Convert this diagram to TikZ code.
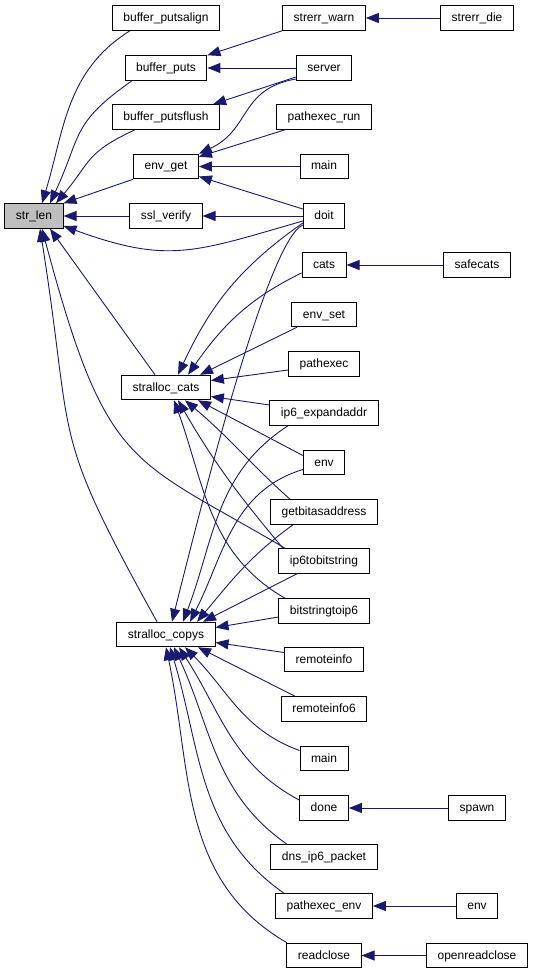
\documentclass[tikz,border=0pt]{standalone}
\usepackage{fontspec}
\setmainfont{Liberation Sans}
\usetikzlibrary{arrows.meta}
\definecolor{edgeblue}{RGB}{25,25,112}
\tikzset{
	fn/.style={draw=black,line width=1pt,fill=white,
		font=\fontsize{12}{14}\selectfont,
		inner xsep=11pt,inner ysep=0pt,minimum height=24.5pt,
		text height=8.6pt,text depth=1.6pt},
	root/.style={fn,fill=black!25},
	call/.style={draw=edgeblue,line width=0.9pt,
		-{Triangle[length=13pt,width=10pt]}}
}

\begin{document}
\begin{tikzpicture}[x=1pt,y=1pt]
		\useasboundingbox (0,0) rectangle (533,-973);
		
		% we place the function that is called
		\node[root] (strlen) at (34,-216) {str\_len};
		% we place its direct callers
		\node[fn] (putsalign) at (166,-18) {buffer\_putsalign};
		\node[fn] (puts) at (166,-68) {buffer\_puts};
		\node[fn] (putsflush) at (166,-117) {buffer\_putsflush};
		\node[fn] (envget) at (166,-166.5) {env\_get};
		\node[fn] (sslverify) at (166,-216) {ssl\_verify};
		\node[fn] (scats) at (166,-387.5) {stralloc\_cats};
		\node[fn] (scopys) at (166,-634.5) {stralloc\_copys};
		% we place the third column
		\node[fn] (warn) at (324,-18) {strerr\_warn};
		\node[fn] (server) at (324,-68) {server};
		\node[fn] (pathexecrun) at (324,-117) {pathexec\_run};
		\node[fn] (mainA) at (324,-166.5) {main};
		\node[fn] (doit) at (324,-216) {doit};
		\node[fn] (cats) at (324,-265) {cats};
		\node[fn] (envset) at (324,-314.5) {env\_set};
		\node[fn] (pathexec) at (324,-364) {pathexec};
		\node[fn] (expand) at (324,-413) {ip6\_expandaddr};
		\node[fn] (envA) at (324,-462.5) {env};
		\node[fn] (getbits) at (324,-512) {getbitasaddress};
		\node[fn] (ip6tobits) at (324,-561) {ip6tobitstring};
		\node[fn] (bitstoip6) at (324,-611) {bitstringtoip6};
		\node[fn] (remoteinfo) at (324,-659.5) {remoteinfo};
		\node[fn] (remoteinfosix) at (324,-709) {remoteinfo6};
		\node[fn] (mainB) at (324,-758.5) {main};
		\node[fn] (done) at (324,-808) {done};
		\node[fn] (dnspacket) at (324,-857) {dns\_ip6\_packet};
		\node[fn] (pathexecenv) at (324,-906) {pathexec\_env};
		\node[fn] (readclose) at (324,-955.5) {readclose};
		% we place the last column
		\node[fn] (die) at (477,-18) {strerr\_die};
		\node[fn] (safecats) at (477,-265) {safecats};
		\node[fn] (spawn) at (477,-808) {spawn};
		\node[fn] (envB) at (477,-906) {env};
		\node[fn] (openreadclose) at (477,-955.5) {openreadclose};
		
		% we draw the calls of str_len
		\draw[call] ([xshift=-36pt]putsalign.south) to[out=212,in=73] ([xshift=8pt]strlen.north);
		\draw[call] ([xshift=-34pt]puts.south) to[out=215,in=65,looseness=1.3] ([xshift=16pt]strlen.north);
		\draw[call] ([xshift=-31pt]putsflush.south) to[out=205,in=50,looseness=1.3] ([xshift=22pt]strlen.north);
		\draw[call] (envget.south west) -- (strlen.north east);
		\draw[call] (sslverify) -- (strlen);
		\draw[call] ([yshift=-5pt]doit.west) to[out=196,in=340,looseness=1.2] ([yshift=-10pt]strlen.east);
		\draw[call] ([xshift=-11pt]scats.north) -- ([xshift=16pt]strlen.south);
		\draw[call] ([xshift=-39pt]ip6tobits.north) .. controls +(-155,92) and +(65,-243) .. ([xshift=8pt]strlen.south);
		\draw[call] ([xshift=-9pt]scopys.north) to[out=119,in=279,looseness=1.4] ([xshift=6pt]strlen.south);
		
		% we draw the calls of the buffer functions, env_get and ssl_verify
		\draw[call] (die) -- (warn);
		\draw[call] (warn.south west) -- (puts.north east);
		\draw[call] (server) -- (puts);
		\draw[call] ([yshift=-9pt]server.west) -- ([xshift=-7pt]putsflush.north east);
		\draw[call] ([yshift=-11pt]server.west) to[out=190,in=25,looseness=1.2] (envget.north east);
		\draw[call] ([xshift=9pt]pathexecrun.south west) -- ([yshift=-3pt]envget.north east);
		\draw[call] (mainA) -- (envget);
		\draw[call] ([yshift=7pt]doit.west) -- ([yshift=-10pt]envget.east);
		\draw[call] (doit) -- (sslverify);
		
		% we draw the calls of stralloc_cats
		\draw[call] (safecats) -- (cats);
		\draw[call] ([yshift=-7pt]doit.west) to[out=215,in=65] ([xshift=12pt]scats.north);
		\draw[call] ([yshift=-8pt]cats.west) to[out=206,in=55] ([xshift=22pt]scats.north);
		\draw[call] ([xshift=-27pt]envset.south) -- ([xshift=34pt]scats.north);
		\draw[call] ([yshift=-6pt]pathexec.west) -- ([yshift=7pt]scats.east);
		\draw[call] ([yshift=8pt]expand.west) -- ([yshift=-9pt]scats.east);
		\draw[call] ([yshift=7pt]envA.west) -- ([xshift=32pt]scats.south);
		\draw[call] ([xshift=-34pt]getbits.north) to[out=138,in=320] ([xshift=19pt]scats.south);
		\draw[call] ([xshift=-41pt]ip6tobits.north) to[out=130,in=300] ([xshift=12pt]scats.south);
		\draw[call] ([xshift=-39pt]bitstoip6.north) to[out=150,in=290] ([xshift=8pt]scats.south);
		
		% we draw the calls of stralloc_copys
		\draw[call] ([yshift=-9pt]doit.west) .. controls +(-35,-15) and +(30,120) .. ([xshift=6pt]scopys.north);
		\draw[call] ([xshift=-36pt]expand.south) to[out=213,in=69] ([xshift=17pt]scopys.north);
		\draw[call] ([yshift=-7pt]envA.west) to[out=197,in=63] ([xshift=24pt]scopys.north);
		\draw[call] ([xshift=-31pt]getbits.south) to[out=216,in=50] ([xshift=31pt]scopys.north);
		\draw[call] ([xshift=-27pt]ip6tobits.south) -- ([xshift=37pt]scopys.north);
		\draw[call] ([yshift=-6pt]bitstoip6.west) -- ([yshift=7pt]scopys.east);
		\draw[call] ([yshift=7pt]remoteinfo.west) -- ([yshift=-8pt]scopys.east);
		\draw[call] ([xshift=-29pt]remoteinfosix.north) -- ([xshift=32pt]scopys.south);
		\draw[call] ([yshift=8pt]mainB.west) to[out=160,in=315] ([xshift=19pt]scopys.south);
		\draw[call] ([yshift=8pt]done.west) to[out=152,in=303] ([xshift=13pt]scopys.south);
		\draw[call] ([xshift=-37pt]dnspacket.north) to[out=145,in=295] ([xshift=8pt]scopys.south);
		\draw[call] ([xshift=-40pt]pathexecenv.north) to[out=145,in=287] ([xshift=4pt]scopys.south);
		\draw[call] ([xshift=-37pt]readclose.north) to[out=150,in=282] (scopys.south);
		
		% we draw the calls from the outer column
		\draw[call] (spawn) -- (done);
		\draw[call] (envB) -- (pathexecenv);
		\draw[call] (openreadclose) -- (readclose);
	\end{tikzpicture}
\end{document}
